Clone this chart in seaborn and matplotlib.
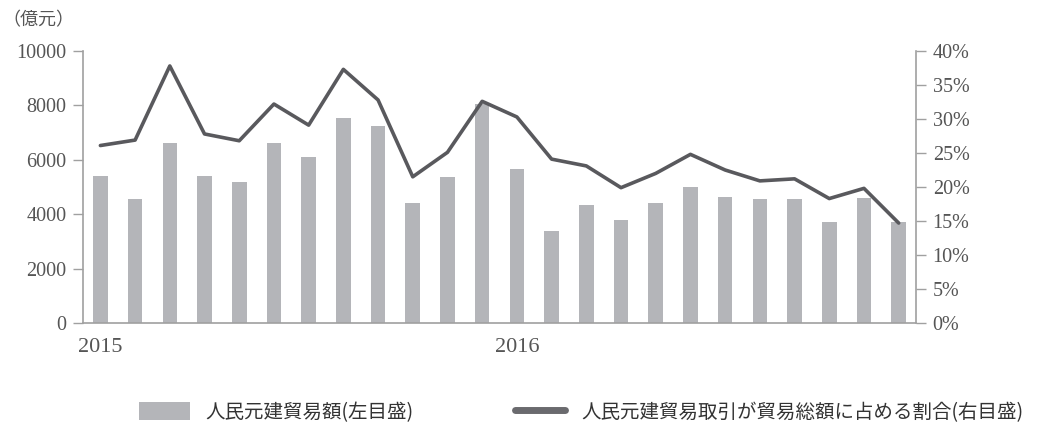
import matplotlib
matplotlib.use("Agg")
import matplotlib.pyplot as plt
import seaborn as sns
import numpy as np
import pandas as pd
from matplotlib.patches import Patch
from matplotlib.lines import Line2D

# ---- data ----
months = [f"{y}-{m:02d}" for y in (2015, 2016) for m in range(1, 13)]
trade_amount = [5400, 4550, 6600, 5400, 5200, 6600, 6100, 7550, 7250, 4400, 5350, 8050,
                5650, 3400, 4350, 3800, 4400, 5000, 4650, 4550, 4550, 3700, 4600, 3700]
trade_share = [26.1, 26.9, 37.8, 27.8, 26.8, 32.2, 29.1, 37.3, 32.8, 21.5, 25.1, 32.6,
               30.3, 24.1, 23.1, 19.9, 22.0, 24.8, 22.5, 20.9, 21.2, 18.3, 19.8, 14.7]
year_labels = ["2015", "2016"]
year_positions = [0, 12]
left_ticks = [0, 2000, 4000, 6000, 8000, 10000]
right_ticks = [0, 5, 10, 15, 20, 25, 30, 35, 40]
bar_label = "人民元建貿易額(左目盛)"
line_label = "人民元建貿易取引が貿易総額に占める割合(右目盛)"
unit_label = "（億元）"

BAR_C = "#b4b5b9"
LINE_C = "#59595d"
AX_C = "#a0a0a0"
TXT_C = "#555555"

sns.set_theme(style="white")
plt.rcParams['font.family'] = ['Liberation Serif', 'Noto Sans CJK JP', 'DejaVu Sans']

fig = plt.figure(figsize=(10.38, 4.25), dpi=100)
ax = fig.add_axes([0.080, 0.24, 0.8025, 0.64])

df = pd.DataFrame({"month": months, "amount": trade_amount, "share": trade_share})
sns.barplot(data=df, x="month", y="amount", ax=ax, color=BAR_C, width=0.42,
            saturation=1, edgecolor="none")
ax.set_xlim(-0.5, len(months) - 0.5)
ax.set_ylim(0, 10000)
ax.set_yticks(left_ticks)
ax.set_yticklabels([str(t) for t in left_ticks])
ax.set_xlabel("")
ax.set_ylabel("")

ax.set_xticks(year_positions)
ax.set_xticklabels(year_labels)
ax.set_xticks(np.arange(-0.5, len(months), 1.0), minor=True)
ax.tick_params(axis="x", which="major", length=0, pad=11, labelsize=16, colors=TXT_C)
ax.tick_params(axis="x", which="minor", length=7, width=1, color=AX_C, direction="out")
ax.tick_params(axis="y", length=7, width=1, color=AX_C, labelsize=14.5, labelcolor=TXT_C,
               pad=5, direction="out", left=True)

ax2 = ax.twinx()
sns.lineplot(x=np.arange(len(months)), y=trade_share, ax=ax2, color=LINE_C, linewidth=2.6)
ax2.set_ylim(0, 40)
ax2.set_yticks(right_ticks)
ax2.set_yticklabels([f"{t}%" for t in right_ticks])
ax2.tick_params(axis="y", length=7, width=1, color=AX_C, labelsize=14.5, labelcolor=TXT_C,
                pad=5, direction="out", right=True)
ax2.set_xlim(-0.5, len(months) - 0.5)

for a in (ax, ax2):
    a.spines["top"].set_visible(False)
    for s in ("left", "bottom", "right"):
        a.spines[s].set_color(AX_C)
        a.spines[s].set_linewidth(1.2)
ax.spines["right"].set_visible(False)
ax2.spines["left"].set_visible(False)
ax2.spines["bottom"].set_visible(False)

fig.text(0.002, 0.952, unit_label, fontsize=13, color=TXT_C,
         family=['Noto Sans CJK JP', 'DejaVu Sans'], va="center", ha="left")

handles = [Patch(facecolor=BAR_C, edgecolor="none"),
           Line2D([0], [0], color="#6a6a6e", linewidth=5)]
leg = fig.legend(handles, [bar_label, line_label], loc="center",
                 bbox_to_anchor=(0.56, 0.03), ncol=2, frameon=False,
                 prop={'family': ['Noto Sans CJK JP', 'DejaVu Sans'], 'size': 14},
                 handlelength=2.6, handleheight=1.0, handletextpad=0.8, columnspacing=5.2)
for t in leg.get_texts():
    t.set_color("#333333")

fig.savefig("out.png", dpi=100)
